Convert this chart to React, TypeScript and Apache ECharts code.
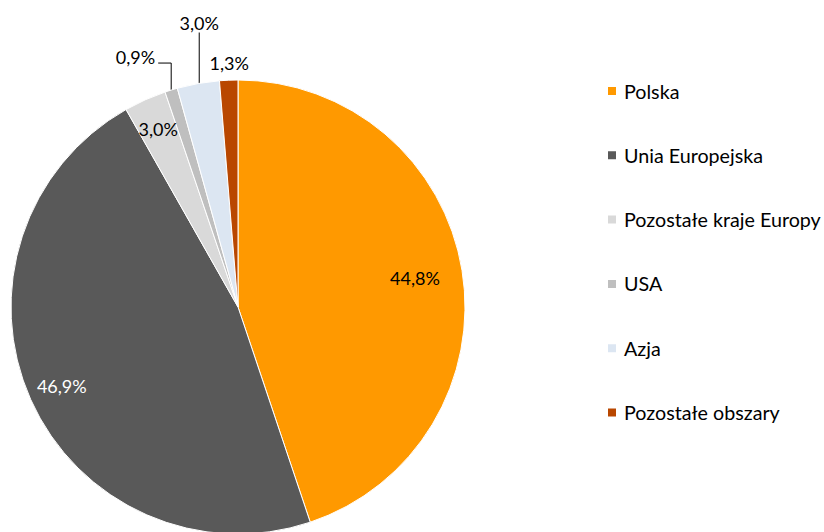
import React, { useEffect, useRef } from "react";
import * as echarts from "echarts";

const categories = [
  "Polska",
  "Unia Europejska",
  "Pozostałe kraje Europy",
  "USA",
  "Azja",
  "Pozostałe obszary",
];
const values = [44.8, 46.9, 3.0, 0.9, 3.0, 1.3];
const colors = ["#FF9900", "#595959", "#D9D9D9", "#BFBFBF", "#DCE6F2", "#B94700"];

// label placement style per slice
const labelModes = ["in", "in", "in", "elbow", "up", "near"];
const labelColors = ["#000", "#fff", "#000", "#000", "#000", "#000"];

const CX = 238;
const CY = 307;
const R = 227;

export default function App() {
  const ref = useRef<HTMLDivElement>(null);
  useEffect(() => {
    if (!ref.current) return;
    const chart = echarts.init(ref.current, undefined, { renderer: "svg" });
    const total = values.reduce((a, b) => a + b, 0);
    const midAngle = (i: number) => {
      const before = values.slice(0, i).reduce((a, b) => a + b, 0);
      return ((before + values[i] / 2) / total) * Math.PI * 2;
    };
    const fmt = (v: number) => v.toFixed(1).replace(".", ",") + "%";
    chart.setOption({
      animation: false,
      legend: {
        orient: "vertical",
        left: 606,
        top: 81,
        padding: 0,
        itemWidth: 10,
        itemHeight: 10,
        itemGap: 44.3,
        icon: "rect",
        textStyle: { fontFamily: "Lato", fontSize: 19.7, color: "#000", padding: [0, 0, 0, 2] },
        data: categories,
      },
      series: [
        {
          type: "pie",
          center: [CX, CY],
          radius: [0, R],
          startAngle: 90,
          clockwise: true,
          avoidLabelOverlap: false,
          itemStyle: { borderColor: "#fff", borderWidth: 1 },
          label: {
            fontFamily: "Lato",
            fontSize: 18,
            formatter: (p: any) => fmt(p.value),
          },
          labelLine: { lineStyle: { color: "#000", width: 1 }, length: 10, length2: 10 },
          data: categories.map((name, i) => ({
            name,
            value: values[i],
            itemStyle: { color: colors[i] },
            label: {
              position: labelModes[i] === "in" ? "inside" : "outside",
              color: labelColors[i],
            },
            labelLine: { show: labelModes[i] === "elbow" || labelModes[i] === "up" },
          })),
          labelLayout: (p: any) => {
            const i = p.dataIndex;
            const a = midAngle(i);
            const dx = Math.sin(a);
            const dy = -Math.cos(a);
            const ex = CX + R * dx;
            const ey = CY + R * dy;
            const mode = labelModes[i];
            if (mode === "in") {
              const f = i === 0 ? 0.79 : i === 1 ? 0.85 : 0.86;
              return {
                x: CX + R * f * dx,
                y: CY + R * f * dy,
                align: "center",
                verticalAlign: "middle",
              };
            }
            if (mode === "elbow") {
              const ky = ey - 27;
              const kx = ex - 13;
              return {
                x: kx - 3,
                y: ky - 6,
                align: "right",
                verticalAlign: "middle",
                labelLinePoints: [
                  [ex, ey],
                  [ex, ky],
                  [kx, ky],
                ],
              };
            }
            if (mode === "up") {
              return {
                x: ex + 1,
                y: ey - 61,
                align: "center",
                verticalAlign: "middle",
                labelLinePoints: [
                  [ex + 1, ey + 1],
                  [ex + 1, ey - 51],
                  [ex + 1, ey - 51],
                ],
              };
            }
            return {
              x: ex + 0.5,
              y: ey - 17,
              align: "center",
              verticalAlign: "middle",
            };
          },
        },
      ],
    });
    return () => chart.dispose();
  }, []);
  return (
    <div
      ref={ref}
      style={{ position: "fixed", left: 0, top: 0, width: 824, height: 532, background: "#fff" }}
    />
  );
}
